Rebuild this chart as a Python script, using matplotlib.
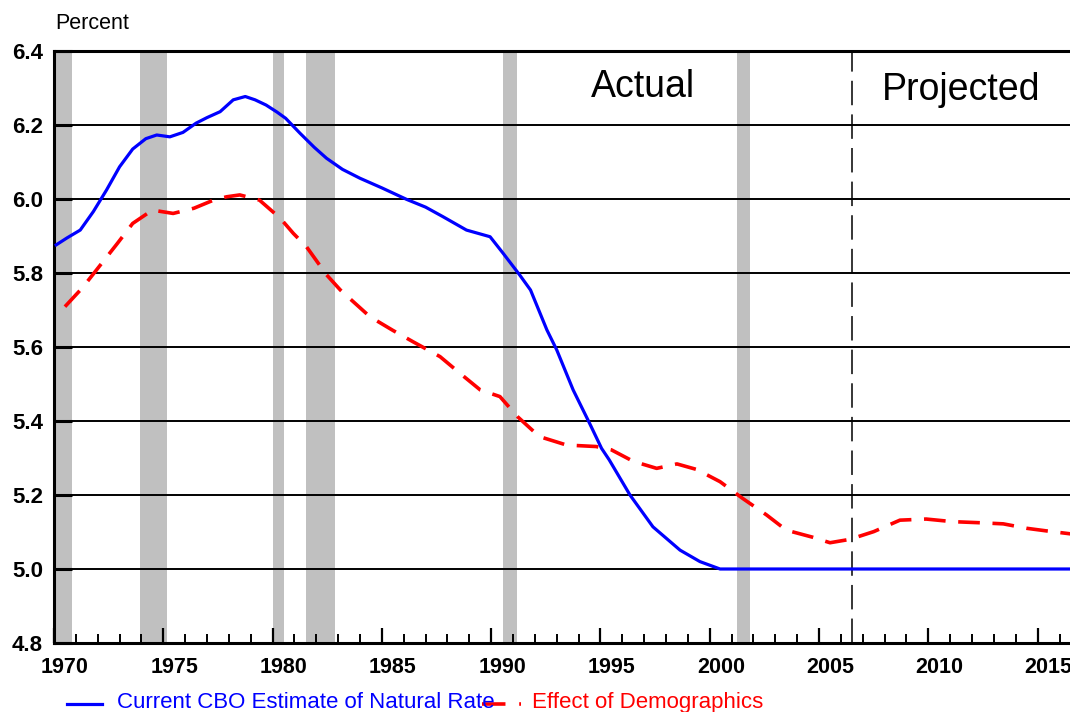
import numpy as np
import matplotlib
matplotlib.use("Agg")
import matplotlib.pyplot as plt
from matplotlib.lines import Line2D
from matplotlib.transforms import ScaledTranslation

plt.rcParams['font.family'] = ['Liberation Sans', 'DejaVu Sans']

# --- Data ---
natural_years = [1970.1, 1970.6, 1971.2, 1971.8, 1972.4, 1973.0, 1973.6, 1974.2, 1974.7,
                 1975.3, 1975.9, 1976.5, 1977.0, 1977.6, 1978.2, 1978.75, 1979.2, 1979.7,
                 1980.2, 1980.6, 1981.25, 1981.9, 1982.47, 1983.2, 1984.0, 1985.0, 1986.13,
                 1987.0, 1987.8, 1988.87, 1989.95, 1990.55, 1991.3, 1991.8, 1992.55, 1993.0,
                 1993.75, 1994.5, 1995.05, 1995.4, 1996.35, 1997.4, 1998.64, 1999.55,
                 2000.47, 2016.5]
natural_rate = [5.876, 5.895, 5.916, 5.966, 6.024, 6.087, 6.135, 6.163, 6.173,
                6.168, 6.18, 6.205, 6.22, 6.236, 6.268, 6.277, 6.268, 6.254,
                6.235, 6.218, 6.178, 6.14, 6.11, 6.08, 6.056, 6.03, 5.999,
                5.978, 5.952, 5.916, 5.898, 5.853, 5.795, 5.754, 5.646, 5.592,
                5.484, 5.394, 5.326, 5.295, 5.2, 5.114, 5.051, 5.02,
                5.0, 5.0]

demo_years = [1970.5, 1971.3, 1972.1, 1972.9, 1973.6, 1974.5, 1975.45, 1976.4, 1977.3,
              1977.9, 1978.5, 1979.4, 1980.35, 1980.95, 1981.55, 1982.47, 1983.1, 1984.45,
              1985.5, 1986.43, 1987.66, 1988.57, 1989.5, 1990.4, 1991.2, 1992.2, 1993.45,
              1994.8, 1995.5, 1996.5, 1997.57, 1998.5, 1999.4, 2000.47, 2001.5, 2002.6,
              2003.5, 2004.7, 2005.5, 2006.4, 2007.5, 2008.7, 2009.9, 2011.1, 2012.37,
              2013.43, 2014.5, 2015.4, 2016.5]
demo_effect = [5.709, 5.76, 5.82, 5.88, 5.934, 5.97, 5.961, 5.975, 5.997,
               6.006, 6.011, 5.997, 5.948, 5.907, 5.871, 5.795, 5.754, 5.682,
               5.645, 5.614, 5.574, 5.529, 5.484, 5.466, 5.412, 5.358, 5.335,
               5.331, 5.322, 5.291, 5.272, 5.284, 5.269, 5.236, 5.191, 5.146,
               5.105, 5.086, 5.071, 5.08, 5.101, 5.132, 5.135, 5.128, 5.125,
               5.122, 5.11, 5.103, 5.095]

recession_start = [1969.9, 1973.93, 1980.0, 1981.53, 1990.54, 2001.24]
recession_end = [1970.83, 1975.17, 1980.5, 1982.85, 1991.18, 2001.84]

projection_start = 2006.5
x_ticks = list(range(1970, 2016, 5))
y_ticks = [4.8, 5.0, 5.2, 5.4, 5.6, 5.8, 6.0, 6.2, 6.4]

# --- Figure ---
fig = plt.figure(figsize=(10.7, 7.12), dpi=100)
ax = fig.add_axes([54 / 1070, 1 - 643 / 712, 1 - 54 / 1070, (643 - 51) / 712])

for s, e in zip(recession_start, recession_end):
    ax.axvspan(s, e, color="#c0c0c0", lw=0, zorder=1)

for y in y_ticks[1:-1]:
    ax.axhline(y, color="black", lw=1.4, zorder=2)

ax.axvline(projection_start, color="black", lw=1.1, linestyle=(0, (16, 6)), zorder=2)

ax.plot(natural_years, natural_rate, color="#0000ff", lw=2.3, zorder=4)
ax.plot(demo_years, demo_effect, color="#ff0000", lw=2.6, dashes=(6, 3.5), zorder=3)

ax.text(1996.94, 6.2757, "Actual", fontsize=27, ha="center", va="baseline")
ax.text(2011.49, 6.2676, "Projected", fontsize=27, ha="center", va="baseline")

ax.set_xlim(1970, 2016.48)
ax.set_ylim(4.8, 6.4)

ax.set_xticks(x_ticks)
ax.set_xticks(range(1970, 2017), minor=True)
ax.set_yticks(y_ticks)
ax.set_yticklabels([f"{v:.1f}" for v in y_ticks])
ax.tick_params(axis="x", which="major", direction="in", length=11, width=1.6,
               labelsize=15.5, pad=10)
ax.tick_params(axis="x", which="minor", direction="in", length=6.5, width=1.4)
ax.tick_params(axis="y", which="major", direction="in", length=13, width=2.2,
               labelsize=16, pad=8)
for lab in ax.get_xticklabels() + ax.get_yticklabels():
    lab.set_fontweight("bold")
offset = ScaledTranslation(11 / 100, 0, fig.dpi_scale_trans)
for lab in ax.get_xticklabels():
    lab.set_transform(lab.get_transform() + offset)

for side in ["top", "left", "bottom"]:
    ax.spines[side].set_linewidth(2.2)
ax.spines["right"].set_visible(False)

fig.text(55 / 1070, 1 - 29 / 712, "Percent", fontsize=15.5, ha="left", va="baseline")

# --- Legend drawn by hand under the axis ---
ly = 1 - 704 / 712
fig.add_artist(Line2D([67 / 1070, 102 / 1070], [ly, ly], color="#0000ff", lw=2.3,
                      transform=fig.transFigure))
fig.text(117 / 1070, 1 - 708 / 712, "Current CBO Estimate of Natural Rate",
         fontsize=16, color="#0000ff", ha="left", va="baseline")
fig.add_artist(Line2D([482 / 1070, 521 / 1070], [ly, ly], color="#ff0000", lw=2.6,
                      dashes=(6.5, 3.8), transform=fig.transFigure))
fig.text(532 / 1070, 1 - 708 / 712, "Effect of Demographics",
         fontsize=16, color="#ff0000", ha="left", va="baseline")

fig.savefig("out.png", dpi=100)
